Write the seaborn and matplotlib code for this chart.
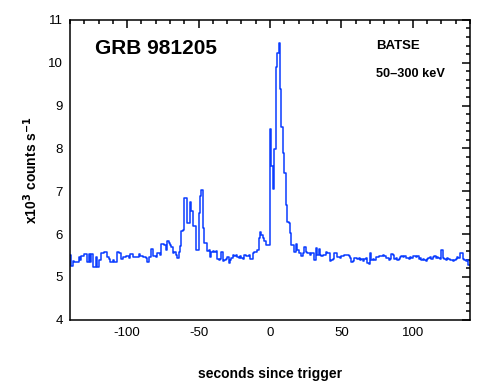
import numpy as np
import pandas as pd
import matplotlib
matplotlib.use("Agg")
import matplotlib.pyplot as plt
from matplotlib.ticker import MultipleLocator
import seaborn as sns

# BATSE 50-300 keV light curve, 1 s bins starting at -140 s (x10^3 counts/s)
t_start = -140
bin_width = 1.0
rate = [
    5.52, 5.26, 5.38, 5.36, 5.36, 5.36, 5.46, 5.40, 5.49, 5.49,
    5.54, 5.54, 5.34, 5.54, 5.34, 5.54, 5.24, 5.24, 5.46, 5.24,
    5.40, 5.40, 5.55, 5.55, 5.58, 5.58, 5.46, 5.42, 5.36, 5.36,
    5.40, 5.34, 5.34, 5.59, 5.55, 5.55, 5.42, 5.46, 5.46, 5.49,
    5.49, 5.44, 5.53, 5.53, 5.46, 5.46, 5.46, 5.46, 5.53, 5.49,
    5.49, 5.46, 5.46, 5.44, 5.36, 5.47, 5.47, 5.66, 5.49, 5.49,
    5.46, 5.55, 5.55, 5.52, 5.77, 5.77, 5.75, 5.64, 5.85, 5.80,
    5.75, 5.70, 5.55, 5.58, 5.52, 5.44, 5.58, 5.72, 6.07, 6.10,
    6.84, 6.84, 6.26, 6.26, 6.76, 6.53, 6.18, 6.18, 5.63, 5.63,
    6.49, 6.89, 7.03, 6.14, 5.79, 5.79, 5.60, 5.62, 5.47, 5.58,
    5.60, 5.58, 5.60, 5.42, 5.40, 5.42, 5.58, 5.38, 5.40, 5.42,
    5.47, 5.33, 5.40, 5.45, 5.52, 5.48, 5.52, 5.46, 5.44, 5.48,
    5.44, 5.42, 5.52, 5.48, 5.50, 5.52, 5.42, 5.42, 5.55, 5.59,
    5.59, 5.63, 5.91, 6.06, 5.98, 5.91, 5.83, 5.75, 5.75, 5.75,
    8.46, 7.58, 7.05, 7.99, 9.90, 10.22, 10.47, 9.38, 8.50, 7.90,
    7.42, 6.68, 6.29, 6.25, 6.02, 5.74, 5.74, 5.59, 5.77, 5.62,
    5.56, 5.56, 5.49, 5.55, 5.70, 5.59, 5.56, 5.56, 5.52, 5.57,
    5.57, 5.40, 5.67, 5.52, 5.65, 5.52, 5.49, 5.52, 5.52, 5.59,
    5.57, 5.56, 5.38, 5.40, 5.42, 5.56, 5.55, 5.47, 5.47, 5.44,
    5.48, 5.50, 5.51, 5.52, 5.52, 5.48, 5.44, 5.36, 5.38, 5.44,
    5.44, 5.42, 5.45, 5.39, 5.41, 5.38, 5.42, 5.44, 5.32, 5.30,
    5.55, 5.40, 5.42, 5.39, 5.47, 5.46, 5.48, 5.50, 5.49, 5.52,
    5.50, 5.44, 5.45, 5.40, 5.42, 5.54, 5.52, 5.42, 5.44, 5.40,
    5.43, 5.47, 5.50, 5.46, 5.48, 5.45, 5.44, 5.42, 5.46, 5.44,
    5.48, 5.50, 5.47, 5.48, 5.42, 5.44, 5.40, 5.42, 5.40, 5.38,
    5.42, 5.44, 5.46, 5.42, 5.47, 5.48, 5.45, 5.47, 5.44, 5.42,
    5.62, 5.44, 5.42, 5.40, 5.44, 5.42, 5.39, 5.40, 5.38, 5.40,
    5.42, 5.47, 5.45, 5.57, 5.55, 5.42, 5.40, 5.38, 5.40, 5.28,
]
x_ticks = [-100, -50, 0, 50, 100]
y_ticks = [4, 5, 6, 7, 8, 9, 10, 11]

# bin edges; repeat the last value so the final step is drawn to the end
t = t_start + bin_width * np.arange(len(rate) + 1)
df = pd.DataFrame({"t": t, "rate": rate + [rate[-1]]})

sns.set_style("white")
plt.rcParams["font.family"] = ["Liberation Sans", "DejaVu Sans"]
plt.rcParams["axes.unicode_minus"] = False
for key in ["text.color", "axes.labelcolor", "xtick.color", "ytick.color"]:
    plt.rcParams[key] = "black"

fig = plt.figure(figsize=(4.9, 3.9), dpi=100)
ax = fig.add_axes([0.143, 0.18, 0.816, 0.769])

sns.lineplot(data=df, x="t", y="rate", drawstyle="steps-post",
             color="#0a3cff", linewidth=1.1, ax=ax, estimator=None)

ax.set_xlim(-140, 140)
ax.set_ylim(4, 11)
ax.set_xticks(x_ticks)
ax.set_yticks(y_ticks)
ax.xaxis.set_minor_locator(MultipleLocator(10))
ax.yaxis.set_minor_locator(MultipleLocator(0.2))
ax.tick_params(which="both", direction="in", top=True, right=True,
               labelsize=9.5, color="black", width=1.1, pad=5)
ax.tick_params(which="major", length=5.5)
ax.tick_params(which="minor", length=3)
for s in ax.spines.values():
    s.set_color("black")
    s.set_linewidth(1.1)

ax.set_xlabel("seconds since trigger", fontsize=10, fontweight="bold", labelpad=20)
ax.set_ylabel(r"x10$^{\mathbf{3}}$ counts s$^{\mathbf{-1}}$", fontsize=10,
              fontweight="bold", labelpad=6)

ax.text(0.062, 0.905, "GRB 981205", transform=ax.transAxes, fontsize=15,
        fontweight="bold", va="center", ha="left")
ax.text(0.765, 0.912, "BATSE", transform=ax.transAxes, fontsize=9.5,
        fontweight="bold", va="center", ha="left")
ax.text(0.765, 0.82, "50\u2013300 keV", transform=ax.transAxes, fontsize=9.2,
        fontweight="bold", va="center", ha="left")

fig.savefig("out.png", dpi=100, facecolor="white")
